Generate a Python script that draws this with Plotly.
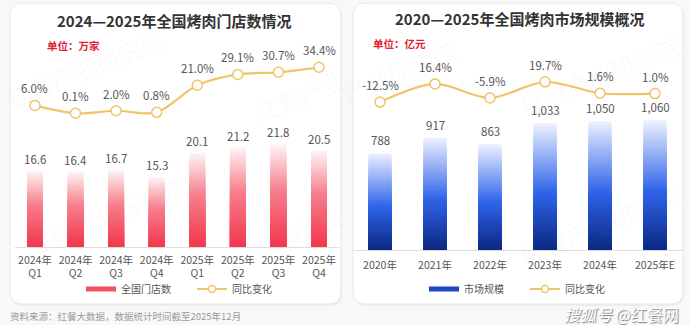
import plotly.graph_objects as go

W, H = 690, 325

# ---------------- data ----------------
store_periods = ["2024年<br>Q1", "2024年<br>Q2", "2024年<br>Q3", "2024年<br>Q4",
                 "2025年<br>Q1", "2025年<br>Q2", "2025年<br>Q3", "2025年<br>Q4"]
store_counts = [16.6, 16.4, 16.7, 15.3, 20.1, 21.2, 21.8, 20.5]
store_yoy = [6.0, 0.1, 2.0, 0.8, 21.0, 29.1, 30.7, 34.4]

market_years = ["2020年", "2021年", "2022年", "2023年", "2024年", "2025年E"]
market_size = [788, 917, 863, 1033, 1050, 1060]
market_yoy = [-12.5, 16.4, -5.9, 19.7, 1.6, 1.0]

FONT = "Noto Sans CJK SC, Noto Sans, sans-serif"
GOLD = "#F0C46A"
TXT = "#555555"


def px_x(x):
    return x / W


def px_y(y):
    return 1 - y / H


def hex2rgb(h):
    h = h.lstrip("#")
    return [int(h[i:i + 2], 16) for i in (0, 2, 4)]


def grad(stops, t):
    for (t0, c0), (t1, c1) in zip(stops, stops[1:]):
        if t0 <= t <= t1:
            f = (t - t0) / (t1 - t0) if t1 > t0 else 0
            a, b = hex2rgb(c0), hex2rgb(c1)
            c = [round(a[i] + (b[i] - a[i]) * f) for i in range(3)]
            return "rgb(%d,%d,%d)" % tuple(c)
    return stops[-1][1]


RED_STOPS = [(0, "#F2364B"), (0.55, "#F77E8C"), (1, "#FFF4F5")]
BLUE_STOPS = [(0, "#0B2882"), (0.45, "#2E63EA"), (1, "#EEF2FF")]

fig = go.Figure()

# ---------------- card backgrounds ----------------
def rrect(x0, y0, x1, y1, r):
    X0, X1 = px_x(x0), px_x(x1)
    Y0, Y1 = px_y(y0), px_y(y1)
    rx, ry = r / W, r / H
    return (f"M{X0+rx},{Y0} L{X1-rx},{Y0} Q{X1},{Y0} {X1},{Y0-ry} "
            f"L{X1},{Y1+ry} Q{X1},{Y1} {X1-rx},{Y1} L{X0+rx},{Y1} "
            f"Q{X0},{Y1} {X0},{Y1+ry} L{X0},{Y0-ry} Q{X0},{Y0} {X0+rx},{Y0} Z")


shapes = []
for (x0, x1) in [(10, 341), (353, 683)]:
    shapes.append(dict(type="path", path=rrect(x0 + 1, 5, x1 + 1, 306, 13), xref="paper", yref="paper",
                       fillcolor="#ececec", line=dict(width=0), layer="below"))
    shapes.append(dict(type="path", path=rrect(x0, 3, x1, 304, 13), xref="paper", yref="paper",
                       fillcolor="white", line=dict(color="#e9e9e9", width=1), layer="below"))

# ---------------- gradient bars ----------------
N = 40


def gradient_bars(xs, vals, base, stops, xaxis, yaxis, width):
    for k in range(N):
        frac = 1 - k / N
        t = frac - 0.5 / N
        fig.add_trace(go.Bar(
            x=xs, y=[(v - base) * frac for v in vals], base=[base] * len(vals),
            marker=dict(color=grad(stops, t), line=dict(width=0)),
            width=width, xaxis=xaxis, yaxis=yaxis, showlegend=False, hoverinfo="skip"))


L_MIN = 1.5
gradient_bars(store_periods, store_counts, L_MIN, RED_STOPS, "x", "y", 0.39)
gradient_bars(market_years, market_size, 0, BLUE_STOPS, "x2", "y3", 0.42)

# ---------------- lines ----------------
mk = dict(size=10, color="white", line=dict(color=GOLD, width=1.5))
fig.add_trace(go.Scatter(x=store_periods, y=store_yoy, mode="lines+markers",
                         line=dict(color=GOLD, width=2.2, shape="spline", smoothing=0.9),
                         marker=mk, xaxis="x", yaxis="y2", showlegend=False, hoverinfo="skip"))
fig.add_trace(go.Scatter(x=market_years, y=market_yoy, mode="lines+markers",
                         line=dict(color=GOLD, width=2.2, shape="spline", smoothing=0.9),
                         marker=mk, xaxis="x2", yaxis="y4", showlegend=False, hoverinfo="skip"))

# legend entries
lmk = dict(size=7, color="white", line=dict(color=GOLD, width=1.5))
fig.add_trace(go.Scatter(x=[None], y=[None], mode="lines", line=dict(color="#F4505F", width=5),
                         name="全国门店数", xaxis="x", yaxis="y", legend="legend"))
fig.add_trace(go.Scatter(x=[None], y=[None], mode="lines+markers", line=dict(color=GOLD, width=2),
                         marker=lmk, name="同比变化", xaxis="x", yaxis="y2", legend="legend"))
fig.add_trace(go.Scatter(x=[None], y=[None], mode="lines", line=dict(color="#1D47C8", width=5),
                         name="市场规模", xaxis="x2", yaxis="y3", legend="legend2"))
fig.add_trace(go.Scatter(x=[None], y=[None], mode="lines+markers", line=dict(color=GOLD, width=2),
                         marker=lmk, name="同比变化", xaxis="x2", yaxis="y4", legend="legend2"))

# ---------------- annotations ----------------
ann = []
# watermarks (drawn first, faint)
for (x, y, t) in [(85, 68, "红餐产业研究院"), (105, 215, "红餐产业研究院"), (300, 95, "红餐产业"),
                  (300, 230, "红餐产业"), (400, 70, "产业研究院"), (600, 75, "红餐产业研究院"),
                  (600, 225, "红餐产业研究院")]:
    ann.append(dict(x=px_x(x), y=px_y(y), xref="paper", yref="paper", text=t, showarrow=False,
                    xanchor="center", yanchor="middle",
                    textangle=-22, font=dict(size=24, color="rgba(120,120,120,0.045)", family=FONT)))

for c, v in zip(store_periods, store_counts):
    ann.append(dict(x=c, y=v, xref="x", yref="y", text=f"{v:.1f}", showarrow=False,
                    yshift=12, font=dict(size=11.5, color=TXT, family=FONT)))
for c, v in zip(store_periods, store_yoy):
    ann.append(dict(x=c, y=v, xref="x", yref="y2", text=f"{v:.1f}%", showarrow=False,
                    yshift=17, font=dict(size=11.5, color=TXT, family=FONT)))
for c, v in zip(market_years, market_size):
    ann.append(dict(x=c, y=v, xref="x2", yref="y3", text=f"{v:,}", showarrow=False,
                    yshift=13, font=dict(size=11.5, color=TXT, family=FONT)))
for c, v in zip(market_years, market_yoy):
    ann.append(dict(x=c, y=v, xref="x2", yref="y4", text=f"{v:.1f}%", showarrow=False,
                    yshift=17, font=dict(size=11.5, color=TXT, family=FONT)))

# titles
ann.append(dict(x=px_x(174), y=px_y(20), xref="paper", yref="paper", showarrow=False,
                xanchor="center", yanchor="middle",
                text="<b>2024—2025年全国烤肉门店数情况</b>",
                font=dict(size=15, color="#333333", family=FONT)))
ann.append(dict(x=px_x(519), y=px_y(19), xref="paper", yref="paper", showarrow=False,
                xanchor="center", yanchor="middle",
                text="<b>2020—2025年全国烤肉市场规模概况</b>",
                font=dict(size=15, color="#333333", family=FONT)))
ann.append(dict(x=px_x(45), y=px_y(46), xref="paper", yref="paper", showarrow=False,
                xanchor="left", yanchor="middle",
                text="<b>单位：万家</b>", font=dict(size=10.5, color="#E3202F", family=FONT)))
ann.append(dict(x=px_x(371), y=px_y(43), xref="paper", yref="paper", showarrow=False,
                xanchor="left", yanchor="middle",
                text="<b>单位：亿元</b>", font=dict(size=10.5, color="#E3202F", family=FONT)))
# source
ann.append(dict(x=px_x(8), y=px_y(316), xref="paper", yref="paper", showarrow=False,
                xanchor="left", yanchor="middle",
                text="资料来源：红餐大数据，数据统计时间截至2025年12月",
                font=dict(size=9.5, color="#9a9a9a", family=FONT)))
# site watermark
ann.append(dict(x=px_x(681), y=px_y(314), xref="paper", yref="paper", showarrow=False,
                xanchor="right", yanchor="middle",
                text="<i>搜狐号</i> @红餐网",
                font=dict(size=16, color="white", family=FONT, shadow="1px 1px 1px #777")))

# ---------------- axes ----------------
xcommon = dict(showgrid=False, zeroline=False, showline=True, linecolor="#dddddd", linewidth=1,
               ticks="", tickfont=dict(size=10.5, color=TXT, family=FONT), fixedrange=True)
ycommon = dict(visible=False, showgrid=False, zeroline=False, fixedrange=True)

L_TOP, L_BOT = 60, 247
R_TOP, R_BOT = 60, 250
l_k = 5.05
r_k = 0.1225
l_p0, l_py0, l_pk = 0.1, 113.3, 1.341
r_p0, r_py0, r_pk = 3.383, 92.1, 0.63

fig.update_layout(
    width=W, height=H, margin=dict(l=0, r=0, t=0, b=0),
    paper_bgcolor="#f8f8f8", plot_bgcolor="rgba(0,0,0,0)",
    barmode="overlay", shapes=shapes, annotations=ann,
    font=dict(family=FONT, color=TXT),
    xaxis=dict(domain=[px_x(14.7), px_x(339.3)], range=[-0.5, 7.5], anchor="y",
               ticklabelstandoff=3, **xcommon),
    yaxis=dict(domain=[px_y(L_BOT), px_y(L_TOP)], anchor="x",
               range=[L_MIN, L_MIN + (L_BOT - L_TOP) / l_k], **ycommon),
    yaxis2=dict(overlaying="y", anchor="x",
                range=[l_p0 - (L_BOT - l_py0) / l_pk, l_p0 + (l_py0 - L_TOP) / l_pk], **ycommon),
    xaxis2=dict(domain=[px_x(352.5), px_x(682.5)], range=[-0.5, 5.5], anchor="y3",
                ticklabelstandoff=5, **xcommon),
    yaxis3=dict(domain=[px_y(R_BOT), px_y(R_TOP)], anchor="x2",
                range=[0, (R_BOT - R_TOP) / r_k], **ycommon),
    yaxis4=dict(overlaying="y3", anchor="x2",
                range=[r_p0 - (R_BOT - r_py0) / r_pk, r_p0 + (r_py0 - R_TOP) / r_pk], **ycommon),
    legend=dict(orientation="h", x=px_x(81), xanchor="left", y=px_y(289), yanchor="middle",
                bgcolor="rgba(0,0,0,0)", font=dict(size=10, color=TXT, family=FONT),
                traceorder="normal", entrywidth=66, itemwidth=30),
    legend2=dict(orientation="h", x=px_x(424), xanchor="left", y=px_y(289), yanchor="middle",
                 bgcolor="rgba(0,0,0,0)", font=dict(size=10, color=TXT, family=FONT),
                 traceorder="normal", entrywidth=56, itemwidth=30),
)

fig.write_html("out.html")
